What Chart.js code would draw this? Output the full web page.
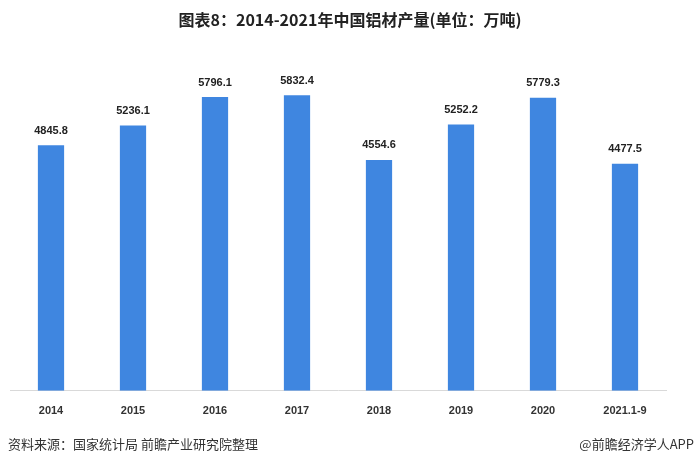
<!DOCTYPE html>
<html>
<head>
<meta charset="utf-8">
<script src="https://cdn.jsdelivr.net/npm/chart.js@4"></script>
<style>
  body { margin: 0; background: #fff; }
  #wrap { position: relative; width: 700px; height: 468px; overflow: hidden; }
  #chartBox { position: absolute; left: 0; top: 0; width: 700px; height: 468px; }
  .title {
    position: absolute; left: 0; top: 7px; width: 700px; text-align: center;
    font: bold 16px "Noto Sans CJK SC", sans-serif; color: #222;
  }
  .source {
    position: absolute; left: 8px; top: 434px;
    font: 13px "Noto Sans CJK SC", sans-serif; color: #333;
  }
  .brand {
    position: absolute; right: 6px; top: 434px;
    font: 13px "Noto Sans CJK SC", sans-serif; color: #333;
  }
</style>
</head>
<body>
<div id="wrap">
  <div id="chartBox"><canvas id="aluCanvas"></canvas></div>
  <div class="title">图表8：2014-2021年中国铝材产量(单位：万吨)</div>
  <div class="source">资料来源：国家统计局 前瞻产业研究院整理</div>
  <div class="brand">@前瞻经济学人APP</div>
</div>
<script>
// 年份与产量（万吨）
const years = ["2014", "2015", "2016", "2017", "2018", "2019", "2020", "2021.1-9"];
const output = [4845.8, 5236.1, 5796.1, 5832.4, 4554.6, 5252.2, 5779.3, 4477.5];

// 柱顶数值标签
const valueLabels = {
  id: "valueLabels",
  afterDatasetsDraw(chart) {
    const ctx = chart.ctx;
    const meta = chart.getDatasetMeta(0);
    ctx.save();
    ctx.font = "bold 11px 'Liberation Sans', Arial, sans-serif";
    ctx.fillStyle = "#222";
    ctx.textAlign = "center";
    ctx.textBaseline = "bottom";
    meta.data.forEach((bar, i) => {
      ctx.fillText(output[i].toFixed(1), bar.x, bar.y - 9);
    });
    ctx.restore();
  }
};

new Chart(document.getElementById("aluCanvas"), {
  type: "bar",
  data: {
    labels: years,
    datasets: [{
      data: output,
      backgroundColor: "#3f86e0",
      categoryPercentage: 0.8,
      barPercentage: 0.4
    }]
  },
  options: {
    responsive: true,
    maintainAspectRatio: false,
    animation: false,
    layout: { padding: { left: 10, right: 34, top: 36, bottom: 44 } },
    plugins: {
      legend: { display: false },
      tooltip: { enabled: false }
    },
    scales: {
      x: {
        grid: { display: false },
        border: { display: true, color: "#d9d9d9" },
        ticks: {
          color: "#333",
          padding: 6,
          font: { family: "'Liberation Sans', Arial, sans-serif", size: 11, weight: "bold" }
        }
      },
      y: {
        display: false,
        min: 0,
        max: 7000
      }
    }
  },
  plugins: [valueLabels]
});
</script>
</body>
</html>
